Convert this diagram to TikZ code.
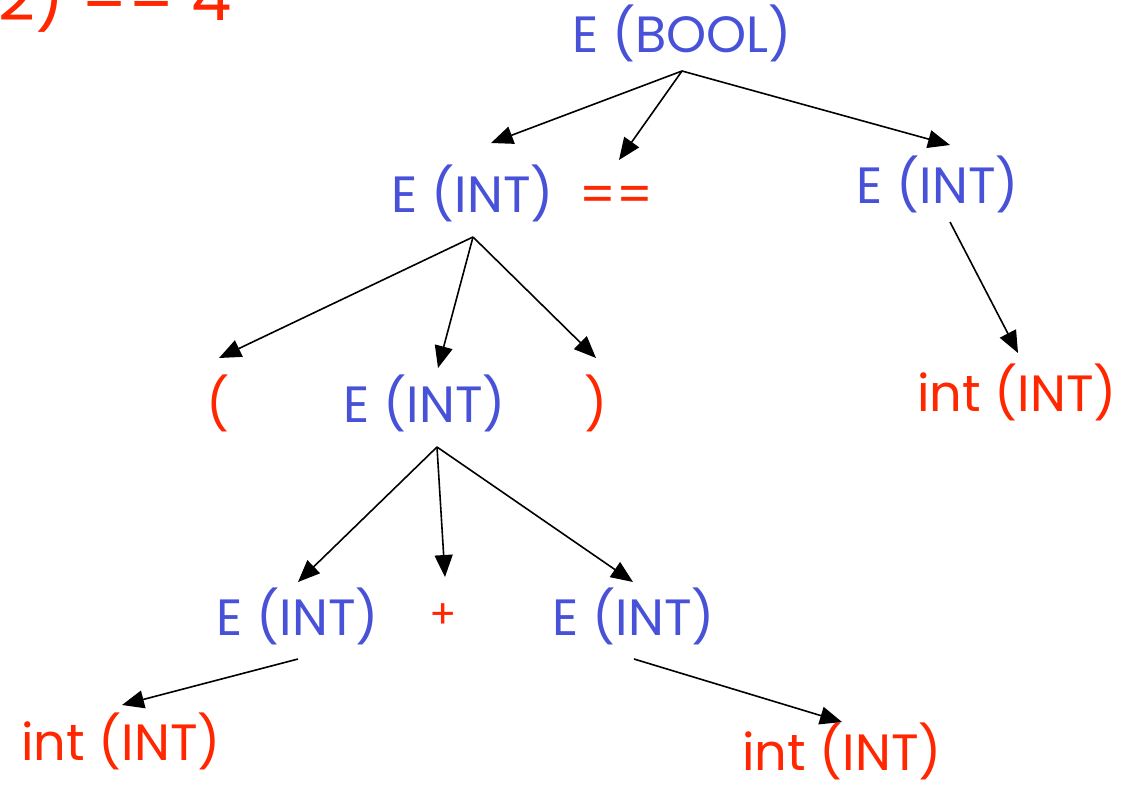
\documentclass[tikz,border=0pt]{standalone}
\usepackage{fontspec}
\setmainfont{Poppins}
\usetikzlibrary{arrows.meta}
\definecolor{tblue}{RGB}{72,82,216}
\definecolor{tred}{RGB}{255,38,0}
\tikzset{
  nt/.style={text=tblue, font=\fontsize{51}{60}\selectfont, anchor=base, inner sep=0pt},
  tm/.style={text=tred, font=\fontsize{51}{60}\selectfont, anchor=base, inner sep=0pt},
  edge/.style={line width=1.6pt, -{Triangle[length=22pt,width=18pt]}}
}
\begin{document}
\begin{tikzpicture}[x=1pt,y=-1pt]
\useasboundingbox (0,0) rectangle (1132,785);
\clip (0,0) rectangle (1132,785);
\fill[white] (0,0) rectangle (1132,785);
% partial top-left text
\node[tm, font=\fontsize{64}{72}\selectfont, anchor=base east] (top) at (232,20) {2) == 4};
% nodes
\node[nt] (bool) at (682,52) {E (BOOL)};
\node[nt] (e1) at (473,212) {E (INT)};
\node[tm] (eq) at (616,212) {==};
\node[nt] (e2) at (938,203) {E (INT)};
\node[tm] (lp) at (218,422) {(};
\node[nt] (e3) at (425,422) {E (INT)};
\node[tm] (rp) at (596,422) {)};
\node[tm] (i1) at (1017,411) {int (INT)};
\node[nt] (e4) at (298,635) {E (INT)};
\node[tm, font=\fontsize{40}{48}\selectfont] (plus) at (443,628) {+};
\node[nt] (e5) at (634,635) {E (INT)};
\node[tm] (i2) at (121,760) {int (INT)};
\node[tm] (i3) at (842,770) {int (INT)};
% connector endpoints
\coordinate (s0) at (682,71);
\coordinate (t01) at (491,143);
\coordinate (t02) at (619,160);
\coordinate (t03) at (950,145);
\coordinate (s1) at (473,237);
\coordinate (t11) at (219,358);
\coordinate (t12) at (438,368);
\coordinate (t13) at (596,358);
\coordinate (s2) at (950,222);
\coordinate (t21) at (1018,353);
\coordinate (s3) at (437,447);
\coordinate (t31) at (298,582);
\coordinate (t32) at (445,577);
\coordinate (t33) at (633,582);
\coordinate (s4) at (298,659);
\coordinate (t41) at (122,705);
\coordinate (s5) at (634,659);
\coordinate (t51) at (842,722);
% connectors
\draw[edge] (s0) -- (t01);
\draw[edge] (s0) -- (t02);
\draw[edge] (s0) -- (t03);
\draw[edge] (s1) -- (t11);
\draw[edge] (s1) -- (t12);
\draw[edge] (s1) -- (t13);
\draw[edge] (s2) -- (t21);
\draw[edge] (s3) -- (t31);
\draw[edge] (s3) -- (t32);
\draw[edge] (s3) -- (t33);
\draw[edge] (s4) -- (t41);
\draw[edge] (s5) -- (t51);
\end{tikzpicture}
\end{document}
